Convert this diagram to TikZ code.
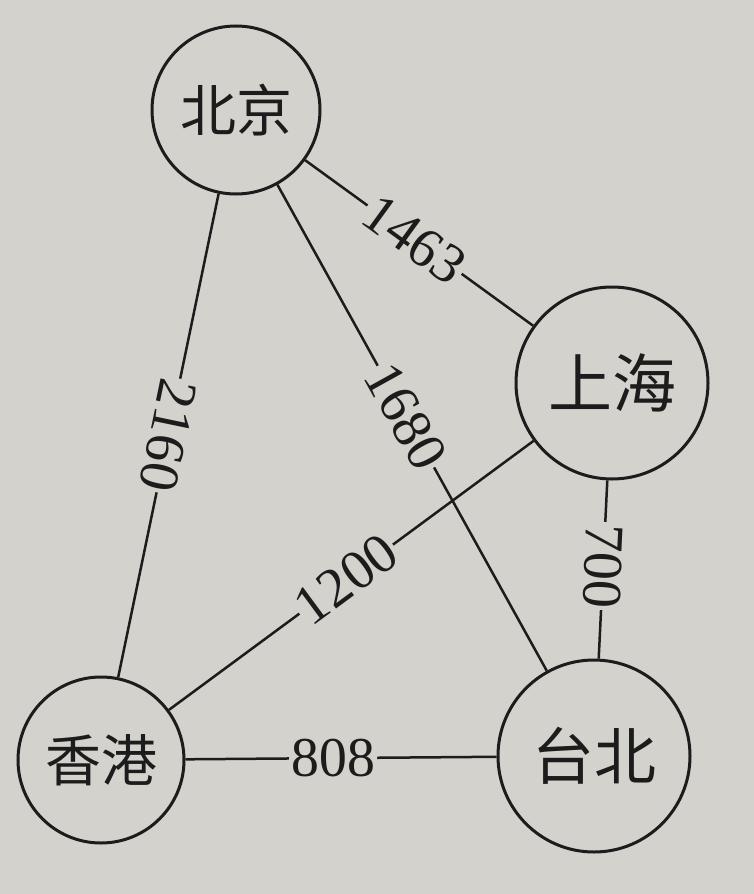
\documentclass[tikz,border=0pt]{standalone}
\usepackage{fontspec}
\setmainfont{Liberation Serif}
\newfontfamily\cjk{Noto Sans CJK SC}
\definecolor{paper}{RGB}{212,210,205}
\definecolor{ink}{RGB}{28,28,28}
\begin{document}
\begin{tikzpicture}[x=1pt,y=-1pt,
  city/.style={circle,draw=ink,line width=3pt,inner sep=0pt,text=ink},
  road/.style={draw=ink,line width=2.5pt},
  dist/.style={sloped,fill=paper,inner sep=2pt,text=ink,font=\fontsize{56}{56}\selectfont}]
\fill[paper] (0,0) rectangle (754,894);
\useasboundingbox (0,0) rectangle (754,894);
\node[city,minimum size=168pt,font=\cjk\fontsize{56}{56}\selectfont] (bj) at (236,110) {北京};
\node[city,minimum size=192pt,font=\cjk\fontsize{64}{64}\selectfont] (sh) at (612,383) {上海};
\node[city,minimum size=166pt,font=\cjk\fontsize{56}{56}\selectfont] (hk) at (101,760) {香港};
\node[city,minimum size=192pt,font=\cjk\fontsize{62}{62}\selectfont] (tb) at (594,756) {台北};
\draw[road] (bj) -- node[dist,pos=0.48] {1463} (sh);
\draw[road] (bj) -- node[dist,allow upside down,pos=0.50] {2160} (hk);
\draw[road] (bj) -- node[dist,pos=0.477] {1680} (tb);
\draw[road] (hk) -- node[dist,pos=0.486] {1200} (sh);
\draw[road] (sh) -- node[dist,allow upside down,pos=0.48] {700} (tb);
\draw[road] (hk) -- node[dist,pos=0.475] {808} (tb);
\end{tikzpicture}
\end{document}
